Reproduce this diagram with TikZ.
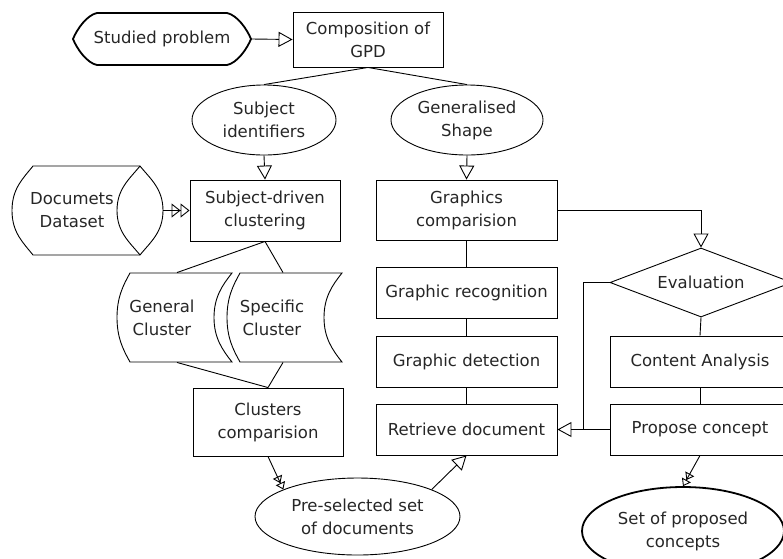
\documentclass[tikz,border=0pt]{standalone}
\usepackage{fontspec}
\setmainfont{DejaVu Sans}
\usetikzlibrary{arrows.meta,shapes.geometric}

\begin{document}
\begin{tikzpicture}[x=1pt, y=-1pt, line width=0.9pt,
	every node/.style={font=\fontsize{16.5}{23}\selectfont, text=black!85, align=center, inner sep=0},
	box/.style={draw, rectangle, text=black!85},
	oval/.style={draw, ellipse},
	blank/.style={draw=none, rectangle},
	tri/.style={-{Triangle[open,length=14pt,width=15pt]}},
	dtri/.style={-{Triangle[open,length=9pt,width=14pt]Triangle[open,length=9pt,width=14pt]}},
	sdtri/.style={-{Triangle[open,length=7pt,width=10pt]Triangle[open,length=7pt,width=10pt]}}]
	\useasboundingbox (0,0) rectangle (783,558);

	\node[blank, minimum width=178pt, minimum height=52pt] (prob) at (162,39) {Studied problem};
	\draw[line width=1.8pt, shift={(prob.center)}] (-65,-26) -- (65,-26) .. controls (75,-24) and (85,-10) .. (89,0) .. controls (85,10) and (75,24) .. (65,26) -- (-65,26) .. controls (-75,24) and (-85,10) .. (-89,0) .. controls (-85,-10) and (-75,-24) .. (-65,-26) -- cycle;
	\node[box, minimum width=150pt, minimum height=55pt] (gpd) at (368,39.5) {Composition of\\GPD};
	\draw[tri] (prob.east) -- (gpd.west);

	\node[oval, minimum width=144pt, minimum height=70pt] (subj) at (264,120) {Subject\\identifiers};
	\node[oval, minimum width=152pt, minimum height=70pt] (gshape) at (467,120) {Generalised\\Shape};
	\draw (gpd.south) -- (subj.north);
	\draw (gpd.south) -- (gshape.north);

	\node[blank, minimum width=182pt, minimum height=89pt] (data) at (72,210.5) {Documets\\Dataset};
	\draw[shift={(data.center)}] (-39,-44.5) -- (68,-44.5) .. controls (78,-32) and (91,-22) .. (91,0) .. controls (91,22) and (78,32) .. (68,44.5) -- (-39,44.5) .. controls (-49,32) and (-60,22) .. (-60,0) .. controls (-60,-22) and (-49,-32) .. (-39,-44.5) -- cycle;
	\draw[shift={(data.center)}] (68,-44.5) .. controls (58,-32) and (45,-22) .. (45,0) .. controls (45,22) and (58,32) .. (68,44.5);
	\node[box, minimum width=150pt, minimum height=61pt] (sub) at (265,210.5) {Subject-driven\\clustering};
	\draw[tri] (subj.south) -- (sub.north);
	\draw[dtri] (data.east) -- (sub.west);

	\node[blank, minimum height=89pt] (gen) at (162,317.5) {General\\Cluster};
	\node[blank, minimum height=89pt] (spec) at (272,317.5) {Specific\\Cluster};
	\foreach \n in {gen,spec}
		\draw[shift={(\n.center)}] (-32,-44.5) -- (70,-44.5) .. controls (60,-32) and (52,-20) .. (52,0) .. controls (52,20) and (60,32) .. (70,44.5) -- (-32,44.5) .. controls (-39,32) and (-45,20) .. (-45,0) .. controls (-45,-20) and (-39,-32) .. (-32,-44.5) -- cycle;
	\draw (sub.south) -- ([xshift=15pt]gen.north);
	\draw (sub.south) -- ([xshift=11pt]spec.north);

	\node[box, minimum width=150pt, minimum height=68pt] (clu) at (268,422) {Clusters\\comparision};
	\draw ([xshift=15pt]gen.south) -- (clu.north);
	\draw ([xshift=11pt]spec.south) -- (clu.north);

	\node[oval, minimum width=205pt, minimum height=77pt] (pre) at (357.5,516.5) {Pre-selected set\\of documents};
	\draw[sdtri] (clu.south) -- (pre.160);

	\node[box, minimum width=181pt, minimum height=60pt] (comp) at (466.5,210) {Graphics\\comparision};
	\node[box, minimum width=181pt, minimum height=51pt] (rec) at (466.5,292.5) {Graphic recognition};
	\node[box, minimum width=181pt, minimum height=51pt] (det) at (466.5,361.5) {Graphic detection};
	\node[box, minimum width=181pt, minimum height=51pt] (ret) at (466.5,429.5) {Retrieve document};
	\draw[tri] (gshape.south) -- (comp.north);
	\draw (comp.south) -- (rec.north);
	\draw (rec.south) -- (det.north);
	\draw (det.south) -- (ret.north);
	\draw[tri] (pre.20) -- (ret.south);

	\node[draw, diamond, aspect=2.6, minimum width=182pt, minimum height=69pt] (eval) at (701,282.5) {Evaluation};
	\node[box, minimum width=180pt, minimum height=51pt] (ana) at (700,361.5) {Content Analysis};
	\node[box, minimum width=180pt, minimum height=51pt] (prop) at (700,429.5) {Propose concept};
	\node[oval, line width=1.8pt, minimum width=202pt, minimum height=88pt] (set) at (683,531) {Set of proposed\\concepts};
	\draw[tri] (comp.east) -| (eval.north);
	\draw (eval.south) -- (ana.north);
	\draw (ana.south) -- (prop.north);
	\coordinate (back) at (583,429.5);
	\draw (eval.west) -| (back);
	\draw[tri] (prop.west) -- (back) -- (ret.east);
	\draw[sdtri] (prop.south) -- (set.north);
\end{tikzpicture}
\end{document}
